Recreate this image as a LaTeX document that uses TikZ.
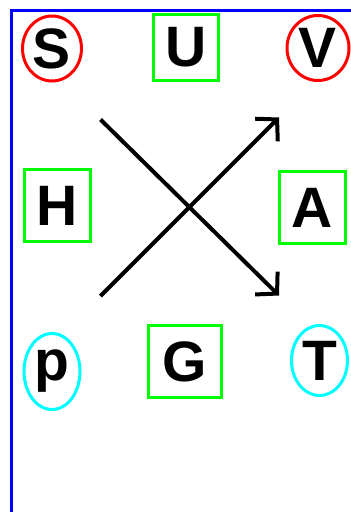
\documentclass[tikz,border=0pt]{standalone}
\usepackage{fontspec}
\setmainfont{Liberation Sans}
\usetikzlibrary{arrows.meta,shapes.geometric}
\tikzset{
  lett/.style={inner sep=0pt, font=\fontsize{57}{57}\selectfont\bfseries, text=black},
  redcirc/.style={lett, draw={rgb,255:red,255;green,0;blue,0}, line width=3pt, ellipse},
  cyancirc/.style={lett, draw={rgb,255:red,0;green,255;blue,255}, line width=3pt, ellipse},
  greenbox/.style={lett, draw={rgb,255:red,0;green,255;blue,0}, line width=3pt, rectangle},
  crossarrow/.style={line width=4pt, line join=miter, -{Straight Barb[length=15pt,width=32pt,line width=4pt,line join=miter]}},
}
\begin{document}
\begin{tikzpicture}[x=1pt,y=-1pt]
\useasboundingbox (0,0) rectangle (351,512);
\draw[line width=2.5pt, draw={rgb,255:red,0;green,0;blue,255}] (11.5,520) -- (11.5,10.5) -- (360,10.5);
\node[redcirc, minimum width=59pt, minimum height=65pt] (S) at (52,48.5) {S};
\node[greenbox, minimum width=65pt, minimum height=66pt] (U) at (186,47.5) {U};
\node[redcirc, minimum width=62pt, minimum height=65pt] (V) at (318,48) {V};
\node[greenbox, minimum width=66pt, minimum height=72pt] (H) at (57,205.5) {H};
\node[greenbox, minimum width=66pt, minimum height=72pt] (A) at (312.5,207.5) {A};
\node[cyancirc, minimum width=56pt, minimum height=76pt] (p) at (52,371.5) {p};
\node[greenbox, minimum width=73pt, minimum height=72pt] (G) at (185,361.5) {G};
\node[cyancirc, minimum width=56pt, minimum height=70pt] (T) at (319.5,360.5) {T};
\coordinate (c1s) at (100.5,119.5);
\coordinate (c1e) at (279,295.5);
\coordinate (c2s) at (100.5,296);
\coordinate (c2e) at (279,117.5);
\draw[crossarrow] (c1s) -- (c1e);
\draw[crossarrow] (c2s) -- (c2e);
\end{tikzpicture}
\end{document}
